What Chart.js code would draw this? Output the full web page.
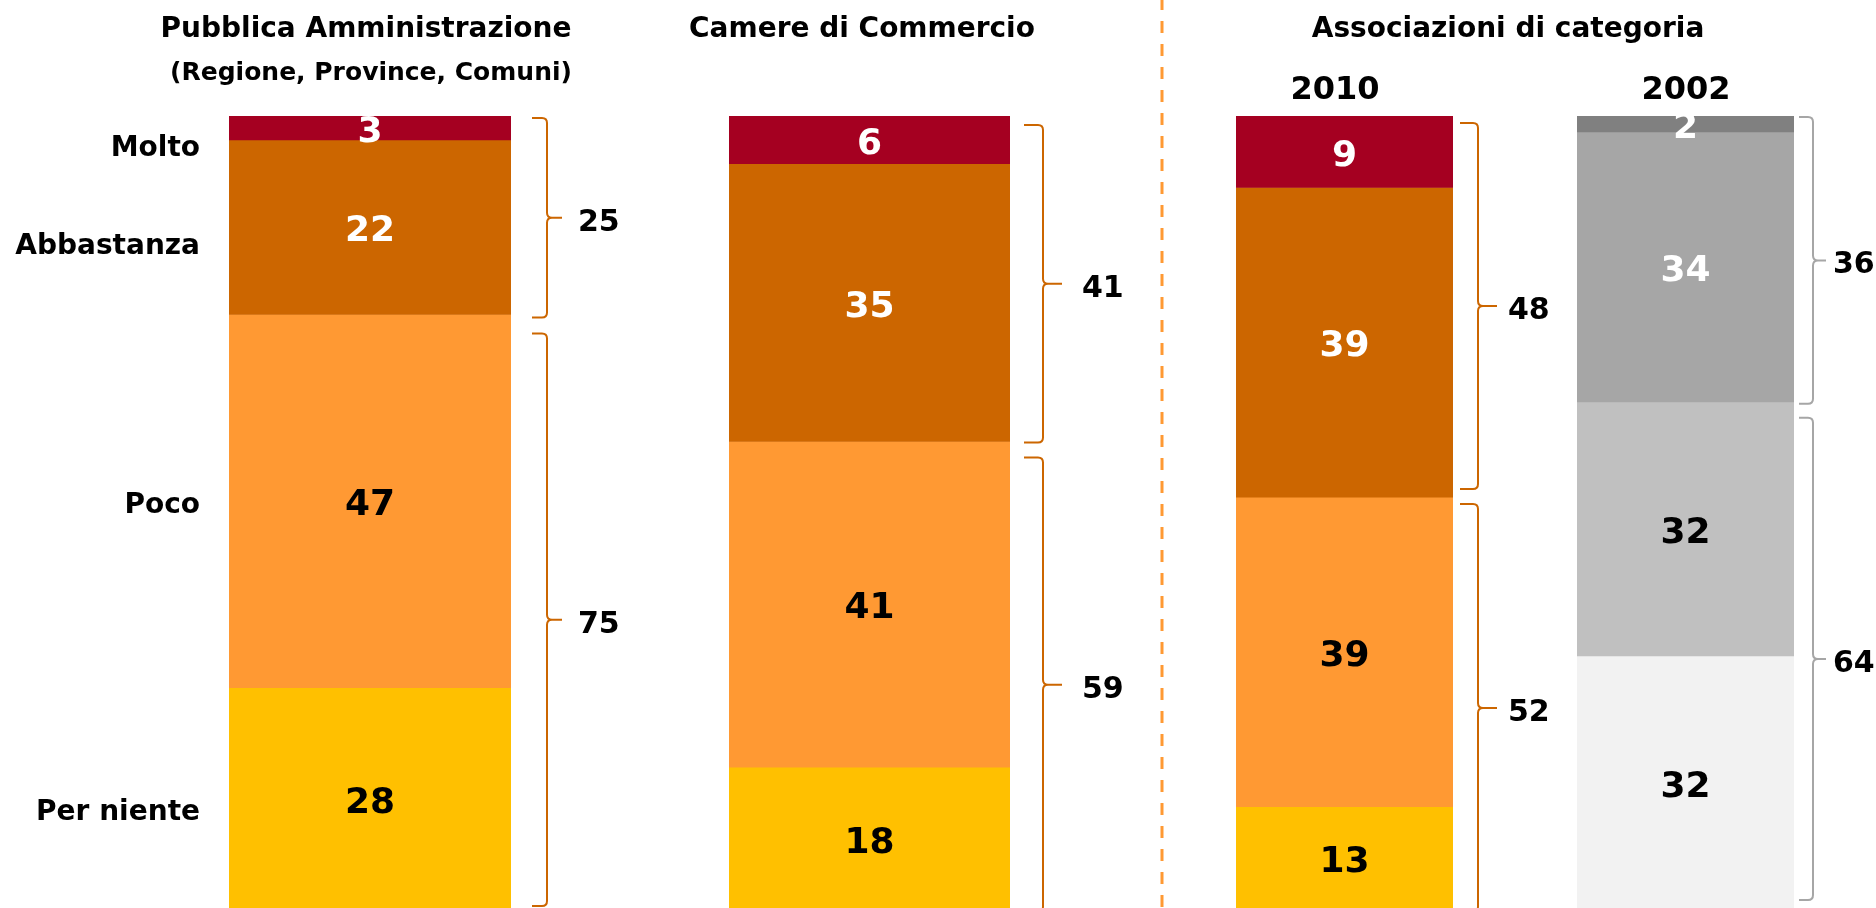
<!DOCTYPE html>
<html>
<head>
<meta charset="utf-8">
<script src="https://cdn.jsdelivr.net/npm/chart.js@4.4.1/dist/chart.umd.min.js"></script>
<style>
  html, body { margin: 0; padding: 0; background: #ffffff; overflow: hidden; }
  #wrap { position: relative; width: 1876px; height: 908px; overflow: hidden; }
  #wrap canvas { position: absolute; left: 0; top: 0; }
</style>
</head>
<body>
<div id="wrap">
  <canvas id="c0" width="1876" height="912"></canvas>
  <canvas id="c1" width="1876" height="912"></canvas>
  <canvas id="c2" width="1876" height="912"></canvas>
  <canvas id="c3" width="1876" height="912"></canvas>
</div>
<script>
// ---------------- DATA ----------------
const categories = ['Molto', 'Abbastanza', 'Poco', 'Per niente'];
const groups = ['Pubblica Amministrazione', 'Camere di Commercio', 'Associazioni di categoria 2010', 'Associazioni di categoria 2002'];
const molto      = [3, 6, 9, 2];
const abbastanza = [22, 35, 39, 34];
const poco       = [47, 41, 39, 32];
const perNiente  = [28, 18, 13, 32];
const totalPositive = [25, 41, 48, 36];   // Molto + Abbastanza
const totalNegative = [75, 59, 52, 64];   // Poco + Per niente
const titleTexts = ['Pubblica Amministrazione', '(Regione, Province, Comuni)', 'Camere di Commercio', 'Associazioni di categoria', '2010', '2002'];
const yMin = 0, yMax = 100;

// ---------------- STYLE / LAYOUT ----------------
const FONT = '"DejaVu Sans", "Liberation Sans", sans-serif';
const palettes = [
  ['#A50021', '#CC6600', '#FF9933', '#FFC000'],
  ['#A50021', '#CC6600', '#FF9933', '#FFC000'],
  ['#A50021', '#CC6600', '#FF9933', '#FFC000'],
  ['#808080', '#A6A6A6', '#C0C0C0', '#F2F2F2']
];
const labelColors = [
  ['#FFFFFF', '#FFFFFF', '#000000', '#000000'],
  ['#FFFFFF', '#FFFFFF', '#000000', '#000000'],
  ['#FFFFFF', '#FFFFFF', '#000000', '#000000'],
  ['#FFFFFF', '#FFFFFF', '#000000', '#000000']
];
const braceColors = ['#CC6600', '#CC6600', '#CC6600', '#A6A6A6'];
// bar horizontal extent (layout)
const barBox = [[229, 511], [729, 1010], [1236, 1453], [1577, 1794]];
// brace x geometry: hook, vertical, tip, label-left
const braceX = [[532, 547, 562, 578], [1024, 1043, 1062, 1082], [1460, 1478, 1497, 1508], [1799, 1813, 1826, 1833]];
// brace y insets: [topStart, topEnd, bottomStart, bottomEnd] (pixels relative to segment bounds)
const braceInset = [[2, 3, 19, -4], [9, 1, 16, 2], [7, -8, 7, 2], [1, 2, 16, -10]];
const AREA_TOP = 116, CANVAS_H = 912, AREA_BOTTOM = 910, CANVAS_W = 1876;

function drawBrace(ctx, xs, y1, y2, color) {
  const [xh, xl, xt] = xs;
  const r = 5, m = (y1 + y2) / 2;
  ctx.save();
  ctx.strokeStyle = color;
  ctx.lineWidth = 2;
  ctx.lineJoin = 'round';
  ctx.beginPath();
  ctx.moveTo(xh, y1);
  ctx.lineTo(xl - r, y1);
  ctx.quadraticCurveTo(xl, y1, xl, y1 + r);
  ctx.lineTo(xl, m - r);
  ctx.quadraticCurveTo(xl, m, xl + r, m);
  ctx.lineTo(xt, m);
  ctx.moveTo(xl + r, m);
  ctx.quadraticCurveTo(xl, m, xl, m + r);
  ctx.lineTo(xl, y2 - r);
  ctx.quadraticCurveTo(xl, y2, xl - r, y2);
  ctx.lineTo(xh, y2);
  ctx.stroke();
  ctx.restore();
}

const decoPlugin = {
  id: 'deco',
  afterDatasetsDraw(chart, args, opts) {
    const i = opts.index;
    const ctx = chart.ctx;
    const y = chart.scales.y;
    // value labels inside segments
    ctx.save();
    ctx.font = 'bold 36px ' + FONT;
    ctx.textAlign = 'center';
    ctx.textBaseline = 'alphabetic';
    chart.data.datasets.forEach((ds, d) => {
      const el = chart.getDatasetMeta(d).data[0];
      const cy = (el.y + el.base) / 2;
      ctx.fillStyle = labelColors[i][d];
      ctx.fillText(String(ds.data[0]), el.x, cy + 14);
    });
    ctx.restore();

    // braces
    const top = y.getPixelForValue(0);
    const mid = y.getPixelForValue(totalPositive[i]);
    const bot = y.getPixelForValue(totalPositive[i] + totalNegative[i]);
    const ins = braceInset[i];
    const t1 = top + ins[0], t2 = mid + ins[1];
    const b1 = mid + ins[2], b2 = bot + ins[3];
    drawBrace(ctx, braceX[i], t1, t2, braceColors[i]);
    drawBrace(ctx, braceX[i], b1, b2, braceColors[i]);
    ctx.save();
    ctx.font = 'bold 30px ' + FONT;
    ctx.fillStyle = '#000000';
    ctx.textAlign = 'left';
    ctx.textBaseline = 'alphabetic';
    ctx.fillText(String(totalPositive[i]), braceX[i][3], (t1 + t2) / 2 + 13);
    ctx.fillText(String(totalNegative[i]), braceX[i][3], (b1 + b2) / 2 + 13);
    ctx.restore();

    if (i === 0) {
      // category labels on the left, from the first bar's segments
      const offs = [28, 27, 12, 21];
      ctx.save();
      ctx.font = 'bold 28px ' + FONT;
      ctx.fillStyle = '#000000';
      ctx.textAlign = 'right';
      ctx.textBaseline = 'alphabetic';
      categories.forEach((c, d) => {
        const el = chart.getDatasetMeta(d).data[0];
        const cy = (el.y + el.base) / 2;
        ctx.fillText(c, 200, cy + offs[d]);
      });
      // titles
      ctx.textAlign = 'center';
      ctx.fillText(titleTexts[0], 366, 37);
      ctx.fillText(titleTexts[2], 862, 37);
      ctx.fillText(titleTexts[3], 1508, 37);
      ctx.font = 'bold 25px ' + FONT;
      ctx.fillText(titleTexts[1], 371, 80);
      ctx.font = 'bold 32px ' + FONT;
      ctx.fillText(titleTexts[4], 1335, 99);
      ctx.fillText(titleTexts[5], 1686, 99);
      // dashed separator
      ctx.strokeStyle = '#FF9933';
      ctx.lineWidth = 3;
      ctx.setLineDash([12, 11]);
      ctx.beginPath();
      ctx.moveTo(1162, -2);
      ctx.lineTo(1162, 910);
      ctx.stroke();
      ctx.restore();
    }
  }
};

const seriesArrays = [molto, abbastanza, poco, perNiente];

for (let i = 0; i < 4; i++) {
  const ctx = document.getElementById('c' + i);
  new Chart(ctx, {
    type: 'bar',
    data: {
      labels: [groups[i]],
      datasets: categories.map((c, d) => ({
        label: c,
        data: [seriesArrays[d][i]],
        backgroundColor: palettes[i][d],
        borderWidth: 0,
        barPercentage: 1,
        categoryPercentage: 1
      }))
    },
    options: {
      responsive: false,
      animation: false,
      devicePixelRatio: 1,
      layout: {
        padding: {
          left: barBox[i][0],
          right: CANVAS_W - barBox[i][1],
          top: AREA_TOP,
          bottom: CANVAS_H - AREA_BOTTOM
        }
      },
      scales: {
        x: { stacked: true, display: false },
        y: { stacked: true, display: false, reverse: true, min: yMin, max: yMax }
      },
      plugins: {
        legend: { display: false },
        tooltip: { enabled: false },
        title: { display: false },
        deco: { index: i }
      }
    },
    plugins: [decoPlugin]
  });
}
</script>
</body>
</html>
